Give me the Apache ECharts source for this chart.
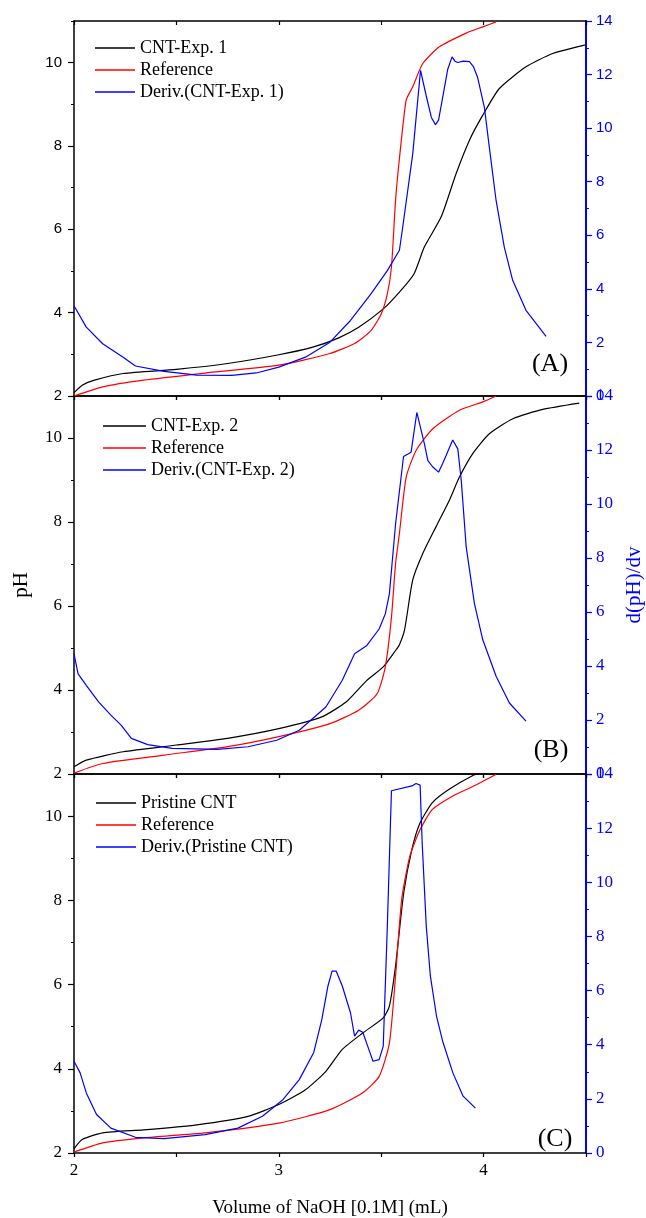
<!DOCTYPE html>
<html>
<head>
<meta charset="utf-8">
<script src="https://cdn.jsdelivr.net/npm/echarts@6/dist/echarts.min.js"></script>
<style>
  html, body { margin: 0; padding: 0; background: #fff; }
  #chart { width: 646px; height: 1218px; }
</style>
</head>
<body>
<div id="chart"></div>
<script>
// panel names / legend labels
const panelTags = ["(A)", "(B)", "(C)"];
const sampleNames = ["CNT-Exp. 1", "CNT-Exp. 2", "Pristine CNT"];
const refName = "Reference";
const derivNames = ["Deriv.(CNT-Exp. 1)", "Deriv.(CNT-Exp. 2)", "Deriv.(Pristine CNT)"];

// Panel A
const volSampleA = [2.00, 2.04, 2.10, 2.24, 2.50, 2.75, 3.00, 3.17, 3.29, 3.39, 3.51, 3.59, 3.66, 3.711, 3.793, 3.866, 3.931, 3.996, 4.077, 4.207, 4.337, 4.467, 4.50];
const phSampleA = [2.08, 2.26, 2.38, 2.54, 2.64, 2.78, 2.99, 3.18, 3.39, 3.65, 4.09, 4.50, 4.93, 5.58, 6.30, 7.34, 8.14, 8.74, 9.38, 9.90, 10.22, 10.39, 10.43];
const volRefA = [2.00, 2.14, 2.34, 2.64, 3.00, 3.25, 3.37, 3.45, 3.50, 3.53, 3.55, 3.57, 3.589, 3.622, 3.654, 3.703, 3.784, 3.915, 3.996, 4.061];
const phRefA = [2.00, 2.22, 2.38, 2.55, 2.74, 3.02, 3.26, 3.57, 3.97, 4.45, 5.09, 6.69, 7.70, 9.10, 9.42, 9.98, 10.38, 10.71, 10.86, 10.98];
const volDerivA = [2.00, 2.06, 2.14, 2.24, 2.30, 2.44, 2.60, 2.77, 2.89, 3.00, 3.13, 3.25, 3.35, 3.45, 3.53, 3.589, 3.605, 3.654, 3.692, 3.72, 3.745, 3.765, 3.78, 3.80, 3.825, 3.846, 3.86, 3.874, 3.90, 3.931, 3.95, 3.971, 4.004, 4.028, 4.061, 4.101, 4.142, 4.207, 4.305];
const derivA = [3.37, 2.57, 1.95, 1.45, 1.12, 0.92, 0.78, 0.77, 0.86, 1.08, 1.45, 2.01, 2.82, 3.81, 4.68, 5.44, 6.30, 9.04, 12.16, 11.2, 10.4, 10.13, 10.3, 11.14, 12.2, 12.66, 12.5, 12.45, 12.5, 12.48, 12.3, 11.89, 10.77, 9.28, 7.30, 5.56, 4.32, 3.20, 2.23];

// Panel B
const volSampleB = [2.00, 2.06, 2.24, 2.50, 2.75, 3.00, 3.21, 3.33, 3.43, 3.51, 3.57, 3.589, 3.614, 3.654, 3.703, 3.768, 3.833, 3.882, 3.947, 4.028, 4.143, 4.289, 4.467];
const phSampleB = [2.17, 2.33, 2.53, 2.69, 2.85, 3.08, 3.36, 3.72, 4.23, 4.55, 4.94, 5.08, 5.43, 6.62, 7.25, 7.89, 8.52, 9.07, 9.63, 10.10, 10.46, 10.68, 10.83];
const volRefB = [2.00, 2.14, 2.44, 2.75, 3.00, 3.25, 3.39, 3.48, 3.52, 3.55, 3.57, 3.589, 3.622, 3.671, 3.752, 3.882, 3.996, 4.061];
const phRefB = [2.02, 2.25, 2.45, 2.65, 2.89, 3.20, 3.52, 3.91, 4.55, 5.73, 7.00, 7.73, 9.07, 9.71, 10.22, 10.66, 10.86, 11.0];
const volDerivB = [2.00, 2.02, 2.06, 2.12, 2.18, 2.23, 2.28, 2.36, 2.48, 2.70, 2.85, 2.99, 3.10, 3.23, 3.31, 3.37, 3.43, 3.49, 3.52, 3.54, 3.57, 3.609, 3.646, 3.674, 3.711, 3.728, 3.752, 3.780, 3.80, 3.817, 3.849, 3.874, 3.891, 3.915, 3.955, 3.996, 4.061, 4.126, 4.207];
const derivB = [4.45, 3.71, 3.28, 2.67, 2.18, 1.81, 1.32, 1.09, 0.95, 0.91, 1.01, 1.25, 1.62, 2.48, 3.47, 4.45, 4.76, 5.37, 5.93, 6.67, 9.25, 11.76, 11.92, 13.39, 12.23, 11.61, 11.37, 11.18, 11.5, 11.80, 12.37, 12.04, 10.87, 8.41, 6.32, 4.97, 3.62, 2.63, 1.96];

// Panel C
const volSampleC = [2.00, 2.04, 2.14, 2.34, 2.60, 2.85, 3.00, 3.13, 3.23, 3.31, 3.41, 3.51, 3.54, 3.57, 3.61, 3.65, 3.69, 3.75, 3.83, 3.95, 4.00];
const phSampleC = [2.10, 2.32, 2.48, 2.55, 2.67, 2.87, 3.15, 3.50, 3.94, 4.46, 4.85, 5.21, 5.49, 6.44, 8.18, 9.21, 9.84, 10.32, 10.63, 10.97, 11.05];
const volRefC = [2.00, 2.14, 2.34, 2.64, 3.00, 3.25, 3.41, 3.49, 3.54, 3.57, 3.60, 3.64, 3.69, 3.75, 3.85, 3.95, 4.06];
const phRefC = [2.02, 2.24, 2.36, 2.48, 2.71, 3.03, 3.43, 3.82, 4.61, 6.20, 8.02, 9.05, 9.68, 10.16, 10.48, 10.71, 10.99];
const volDerivC = [2.00, 2.03, 2.06, 2.11, 2.18, 2.30, 2.44, 2.64, 2.80, 2.92, 3.02, 3.10, 3.17, 3.21, 3.24, 3.26, 3.28, 3.31, 3.35, 3.37, 3.39, 3.41, 3.44, 3.46, 3.49, 3.51, 3.53, 3.55, 3.65, 3.67, 3.69, 3.70, 3.72, 3.74, 3.77, 3.80, 3.85, 3.90, 3.96];
const derivC = [3.39, 2.96, 2.22, 1.42, 0.92, 0.58, 0.53, 0.68, 0.92, 1.36, 1.97, 2.71, 3.70, 4.93, 6.17, 6.72, 6.72, 6.17, 5.18, 4.32, 4.54, 4.46, 3.82, 3.39, 3.45, 3.95, 8.38, 13.38, 13.56, 13.65, 13.59, 11.47, 8.38, 6.54, 5.06, 4.13, 2.96, 2.10, 1.66];

const xTickLabels = [2, 3, 4];

const serif = "'Liberation Serif', 'Times New Roman', serif";
const sans = "'Liberation Sans', Arial, sans-serif";

const zip = (xs, ys) => xs.map((x, i) => [x, ys[i]]);

const panels = [
  { sample: [volSampleA, phSampleA], ref: [volRefA, phRefA], deriv: [volDerivA, derivA], labelFont: sans, labelSize: 15 },
  { sample: [volSampleB, phSampleB], ref: [volRefB, phRefB], deriv: [volDerivB, derivB], labelFont: serif, labelSize: 17 },
  { sample: [volSampleC, phSampleC], ref: [volRefC, phRefC], deriv: [volDerivC, derivC], labelFont: serif, labelSize: 17 },
];

// outerBoundsMode none: keep every panel the same width even with the long right-axis title
const grids = [
  { left: 74, width: 512, top: 21, height: 375, outerBoundsMode: "none" },
  { left: 74, width: 512, top: 396, height: 378, outerBoundsMode: "none" },
  { left: 74, width: 512, top: 774, height: 379, outerBoundsMode: "none" },
];

const legendPos = [
  { left: 95, top: 39, itemWidth: 40 },
  { left: 103, top: 417, itemWidth: 43 },
  { left: 96, top: 794, itemWidth: 40 },
];

const tagPos = [[550, 364], [551, 750], [555, 1139]];

const xAxes = [];
const yAxes = [];
const series = [];
const legends = [];
const graphics = [];

panels.forEach((p, i) => {
  const last = i === panels.length - 1;
  // bottom axis
  xAxes.push({
    type: "value", gridIndex: i, position: "bottom", min: 2, max: 4.5, interval: 0.5,
    axisLine: { lineStyle: { color: "#000", width: 1.5 } },
    axisTick: { show: true, inside: false, length: 4, lineStyle: { color: "#000", width: 1.2 } },
    axisLabel: {
      show: last, margin: 9, color: "#000", fontFamily: serif, fontSize: 17,
      formatter: (v) => (xTickLabels.includes(v) ? String(v) : ""),
    },
    splitLine: { show: false },
    name: last ? "Volume of NaOH [0.1M] (mL)" : "",
    nameLocation: "middle", nameGap: 46,
    nameTextStyle: { color: "#000", fontFamily: serif, fontSize: 19 },
  });
  // top frame axis
  xAxes.push({
    type: "value", gridIndex: i, position: "top", min: 2, max: 4.5, interval: 0.5,
    axisLine: { lineStyle: { color: "#000", width: 1.5 } },
    axisTick: { show: true, inside: true, length: 4, lineStyle: { color: "#000", width: 1.2 } },
    axisLabel: { show: false },
    splitLine: { show: false },
  });

  // left pH axis (major ticks + labels)
  yAxes.push({
    type: "value", gridIndex: i, position: "left", min: 2, max: 11, interval: 2,
    axisLine: { show: true, lineStyle: { color: "#000", width: 1.5 } },
    axisTick: { show: true, length: 6, lineStyle: { color: "#000", width: 1.2 } },
    axisLabel: { color: "#000", fontFamily: p.labelFont, fontSize: p.labelSize, margin: 12, showMaxLabel: false },
    splitLine: { show: false },
    name: i === 1 ? "pH" : "",
    nameLocation: "middle", nameRotate: 90, nameGap: 42,
    nameTextStyle: { color: "#000", fontFamily: serif, fontSize: 21 },
  });
  // left minor ticks
  yAxes.push({
    type: "value", gridIndex: i, position: "left", min: 2, max: 11, interval: 1,
    axisLine: { show: false },
    axisTick: { show: true, length: 3, lineStyle: { color: "#000", width: 1 } },
    axisLabel: { show: false },
    splitLine: { show: false },
  });
  // right derivative axis
  yAxes.push({
    type: "value", gridIndex: i, position: "right", min: 0, max: 14, interval: 2,
    axisLine: { show: true, lineStyle: { color: "#0000ff", width: 2 } },
    axisTick: { show: true, length: 6, lineStyle: { color: "#0000ff", width: 1.2 } },
    minorTick: { show: true, splitNumber: 2, length: 3, lineStyle: { color: "#0000ff", width: 1 } },
    axisLabel: { color: "#0000ff", fontFamily: p.labelFont, fontSize: p.labelSize, margin: 10 },
    splitLine: { show: false },
    minorSplitLine: { show: false },
    name: i === 1 ? "d(pH)/dv" : "",
    nameLocation: "middle", nameRotate: 90, nameGap: 37,
    nameTextStyle: { color: "#0000ff", fontFamily: serif, fontSize: 21 },
  });

  const common = { type: "line", showSymbol: false, symbol: "none", xAxisIndex: 2 * i, clip: true };
  series.push({
    ...common, name: sampleNames[i], yAxisIndex: 3 * i, smooth: 0.2,
    data: zip(p.sample[0], p.sample[1]),
    lineStyle: { color: "#000", width: 1.2 }, itemStyle: { color: "#000" },
  });
  series.push({
    ...common, name: refName, yAxisIndex: 3 * i, smooth: 0.2,
    data: zip(p.ref[0], p.ref[1]),
    lineStyle: { color: "#ff0000", width: 1.2 }, itemStyle: { color: "#ff0000" },
  });
  series.push({
    ...common, name: derivNames[i], yAxisIndex: 3 * i + 2,
    data: zip(p.deriv[0], p.deriv[1]),
    lineStyle: { color: "#0000ff", width: 1.2 }, itemStyle: { color: "#0000ff" },
  });

  legends.push({
    orient: "vertical",
    left: legendPos[i].left,
    top: legendPos[i].top,
    padding: 0,
    itemGap: 4,
    itemWidth: legendPos[i].itemWidth,
    itemHeight: 1.5,
    icon: "rect",
    selectedMode: false,
    data: [sampleNames[i], refName, derivNames[i]],
    textStyle: { color: "#000", fontFamily: serif, fontSize: 18, lineHeight: 18, padding: [0, 0, 0, 0] },
  });

  graphics.push({
    type: "text",
    x: tagPos[i][0],
    y: tagPos[i][1],
    style: {
      text: panelTags[i], fill: "#000", font: "26px " + serif,
      textAlign: "center", textVerticalAlign: "middle",
    },
  });
});

const chart = echarts.init(document.getElementById("chart"), null, { renderer: "canvas" });
chart.setOption({
  backgroundColor: "#fff",
  animation: false,
  grid: grids,
  xAxis: xAxes,
  yAxis: yAxes,
  series: series,
  legend: legends,
  graphic: graphics,
});
</script>
</body>
</html>
